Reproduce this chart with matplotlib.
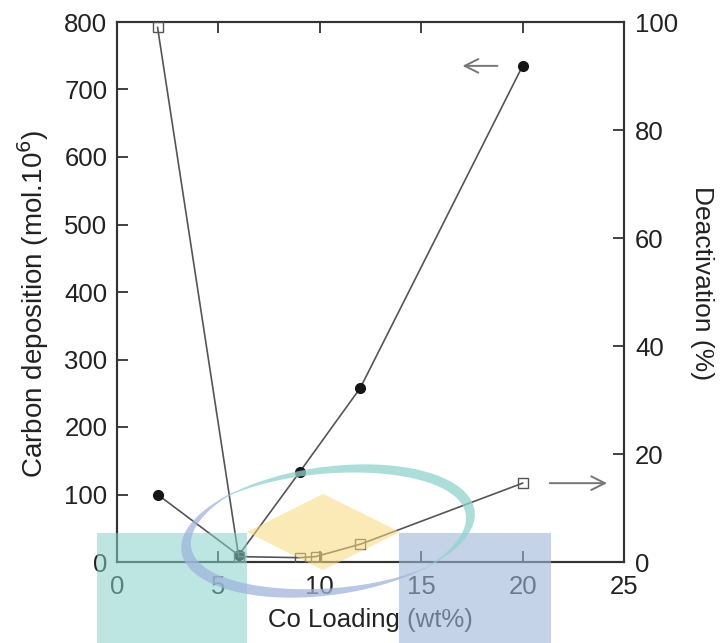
#!/usr/bin/env python3
"""Carbon deposition and deactivation versus Co loading (twin y axes)."""

import numpy as np
import matplotlib

matplotlib.use("Agg")
import matplotlib.pyplot as plt
from matplotlib.patches import Rectangle, Polygon

plt.rcParams["font.family"] = ["Liberation Sans", "DejaVu Sans"]

# carbon deposition (left axis, filled circles)
carbon_x = [2, 6, 9, 12, 20]
carbon_y = [100, 10, 133, 258, 735]

# deactivation (right axis, open squares)
deact_x = [2, 6, 9, 9.8, 12, 20]
deact_y = [99, 1.0, 0.8, 1.0, 3.3, 14.6]

x_ticks = [0, 5, 10, 15, 20, 25]
left_ticks = [0, 100, 200, 300, 400, 500, 600, 700, 800]
right_ticks = [0, 20, 40, 60, 80, 100]

LINE = "#555555"
TEXT = "#222222"


def crescent(ax, cx, cy, rx, ry, rot, t0, t1, wmax, color, alpha):
    # thin swoosh shape for the background watermark
    t = np.radians(np.linspace(t0, t1, 120))
    w = wmax * np.sin(np.pi * np.linspace(0, 1, t.size))
    ox, oy = rx * np.cos(t), ry * np.sin(t)
    ix, iy = (rx - w) * np.cos(t), (ry - w * 0.8) * np.sin(t)
    xs = np.concatenate([ox, ix[::-1]])
    ys = np.concatenate([oy, iy[::-1]])
    r = np.radians(rot)
    px = cx + xs * np.cos(r) - ys * np.sin(r)
    py = cy + xs * np.sin(r) + ys * np.cos(r)
    ax.add_patch(Polygon(np.column_stack([px, py]), closed=True,
                         facecolor=color, edgecolor="none", alpha=alpha))


fig = plt.figure(figsize=(7.21, 6.43), dpi=100)
ax = fig.add_axes([117 / 721, 1 - 562 / 643, (624 - 117) / 721, (562 - 22) / 643])
ax2 = ax.twinx()

ax.plot(carbon_x, carbon_y, color=LINE, linewidth=1.2, marker="o",
        markersize=7, markerfacecolor="#151515", markeredgecolor="#151515", zorder=3)
ax2.plot(deact_x, deact_y, color=LINE, linewidth=1.2, marker="s",
         markersize=6.5, markerfacecolor="none", markeredgecolor=LINE,
         markeredgewidth=1.0, zorder=3)

ax.set_xlim(0, 25)
ax.set_ylim(0, 800)
ax2.set_ylim(0, 100)
ax.set_xticks(x_ticks)
ax.set_yticks(left_ticks)
ax2.set_yticks(right_ticks)

for spine in list(ax.spines.values()) + list(ax2.spines.values()):
    spine.set_color("#333333")
    spine.set_linewidth(1.5)

ax.tick_params(axis="both", direction="in", length=8, width=1.3,
               colors="#333333", labelcolor=TEXT, labelsize=18.5, top=True)
ax.tick_params(axis="x", pad=9)
ax.tick_params(axis="y", pad=7)
ax2.tick_params(axis="y", direction="in", length=8, width=1.3,
                colors="#333333", labelcolor=TEXT, labelsize=18.5, pad=8)

ax.set_xlabel("Co Loading (wt%)", fontsize=18.5, color=TEXT, labelpad=7)
ax.set_ylabel(r"Carbon deposition (mol.10$^{6}$)", fontsize=20, color=TEXT)
ax.yaxis.set_label_coords(-0.13, 0.478)
ax2.set_ylabel("Deactivation (%)", fontsize=19, color=TEXT, rotation=270)
ax2.yaxis.set_label_coords(1.178, 0.517)

# arrows pointing to the matching axis
arrow_style = dict(arrowstyle="->,head_length=0.7,head_width=0.35",
                   color="#777777", lw=1.4, mutation_scale=14)
ax.annotate("", xy=(16.9, 735), xytext=(18.9, 735), arrowprops=arrow_style)
ax2.annotate("", xy=(24.3, 14.6), xytext=(21.2, 14.6), arrowprops=arrow_style)

# watermark overlay in pixel coordinates
wm = fig.add_axes([0, 0, 1, 1], zorder=10)
wm.set_xlim(0, 721)
wm.set_ylim(643, 0)
wm.axis("off")
wm.patch.set_visible(False)
wm.add_patch(Polygon([(247, 532), (323, 494), (400, 532), (323, 570)],
                     closed=True, facecolor="#f8da7b", edgecolor="none", alpha=0.55))
wm.add_patch(Rectangle((97, 533), 150, 110, facecolor="#87d2cb",
                       edgecolor="none", alpha=0.55))
wm.add_patch(Rectangle((399, 533), 152, 110, facecolor="#9eb7d9",
                       edgecolor="none", alpha=0.6))
crescent(wm, 328, 531, 148, 64, -8, -135, 55, 12, "#8fd3cd", 0.75)
crescent(wm, 328, 531, 148, 64, -8, 50, 235, 13, "#9fb5dc", 0.75)

fig.savefig("out.png", dpi=100)
